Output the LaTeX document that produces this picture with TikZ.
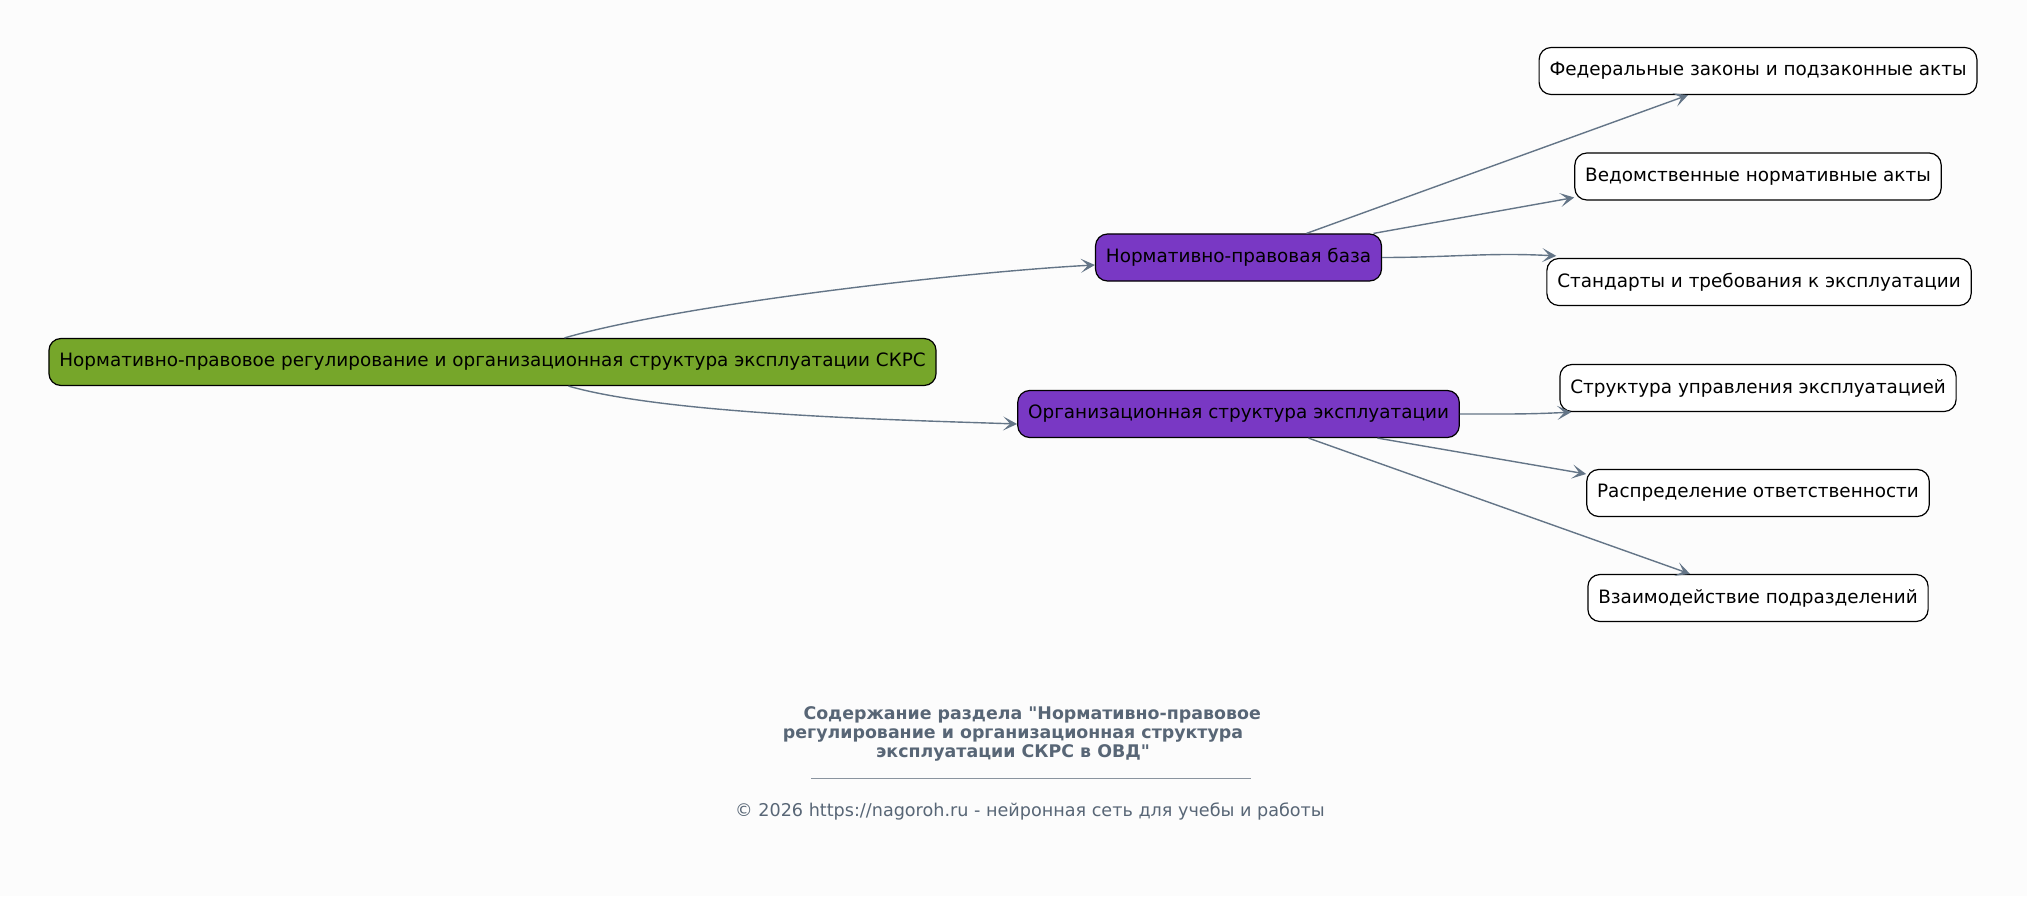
\documentclass[tikz,border=0pt]{standalone}
\usepackage{fontspec}
\setmainfont{DejaVu Sans}[Ligatures=TeXOff]
\usetikzlibrary{arrows.meta,positioning}

\definecolor{bgcol}{RGB}{252,252,252}
\definecolor{rootcol}{RGB}{118,166,42}
\definecolor{topiccol}{RGB}{121,56,196}
\definecolor{linkcol}{RGB}{100,117,135}
\definecolor{notecol}{RGB}{88,102,118}

\tikzset{
    box/.style={draw=black, line width=0.6pt, rounded corners=6pt,
        minimum height=23.5pt, inner xsep=5.2pt,
        font=\fontsize{9.2}{11}\selectfont},
    root/.style={box, fill=rootcol},
    topic/.style={box, fill=topiccol},
    leaf/.style={box, fill=white},
    link/.style={every edge/.append style={draw=linkcol, line width=0.7pt,
        -{Stealth[length=7pt,width=7pt,inset=3.5pt]}}},
}

\begin{document}
\begin{tikzpicture}[x=0.5pt, y=0.5pt]
    \fill[bgcol] (0,0) rectangle (2027,896);
    \useasboundingbox (0,0) rectangle (2027,896);

    \node[root] at (492.5, 534)(r){Нормативно-правовое регулирование и организационная структура эксплуатации СКРС};
    \node[topic] at (1238.5, 638.5)(nb){Нормативно-правовая база};
    \node[topic] at (1238.5, 482)(os){Организационная структура эксплуатации};

    \node[leaf] at (1758, 825)(fz){Федеральные законы и подзаконные акты};
    \node[leaf] at (1758, 719.5)(vn){Ведомственные нормативные акты};
    \node[leaf] at (1759, 614)(st){Стандарты и требования к эксплуатации};
    \node[leaf] at (1758, 508)(su){Структура управления эксплуатацией};
    \node[leaf] at (1758, 403)(ro){Распределение ответственности};
    \node[leaf] at (1758, 298)(vp){Взаимодействие подразделений};

    \path[link]
        ([xshift=36pt]r.north) edge[out=16, in=183, looseness=0.6] ([yshift=-3.75pt]nb.west)
        ([xshift=38pt]r.south) edge[out=-16, in=178, looseness=0.6] ([yshift=-5pt]os.west)
        ([xshift=34pt]nb.north) edge ([xshift=-35pt]fz.south)
        ([xshift=67.5pt]nb.north) edge ([yshift=-10.5pt]vn.west)
        (nb.east) edge[out=0, in=177] ([xshift=5pt,yshift=1pt]st.north west)
        (os.east) edge[out=0, in=183] ([xshift=6pt]su.south west)
        ([xshift=69.5pt]os.south) edge ([yshift=9.5pt]ro.west)
        ([xshift=35pt]os.south) edge ([xshift=-34pt]vp.north)
        ;

    % caption
    \node[font=\fontsize{8.7}{9.6}\selectfont\bfseries, text=notecol, align=center]
        at (1013, 162)(title){\hspace*{2.2em}Содержание раздела "Нормативно-правовое\\регулирование и организационная структура\\эксплуатации СКРС в ОВД"};
    \draw[notecol!70, line width=0.4pt] (811, 118) -- (1251, 118);
    \node[font=\fontsize{8.8}{10}\selectfont, text=notecol] at (1030, 85)(copy){© 2026 https://nagoroh.ru - нейронная сеть для учебы и работы};
\end{tikzpicture}
\end{document}
